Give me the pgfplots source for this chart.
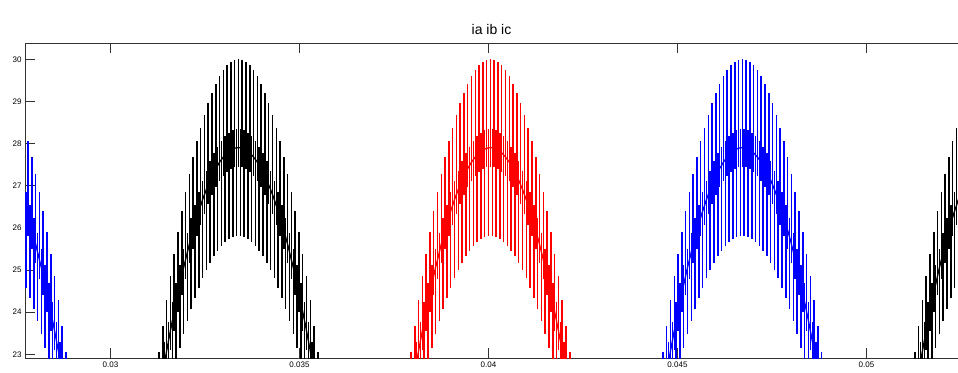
\documentclass[border=0pt]{standalone}
\usepackage{pgfplots}
\usepackage{pgfplotstable}
\pgfplotsset{compat=1.18}
\usepackage{fontspec}
\setmainfont{Liberation Sans}
\pgfplotstableread{
t0 t1 t2 t3 t4 m p n
24.52 31.185 37.85 44.515 51.18 21.50 0.89 0.45
24.57 31.235 37.90 44.565 51.23 21.77 0.45 0.94
24.62 31.285 37.95 44.615 51.28 22.05 1.00 0.45
24.67 31.335 38.00 44.665 51.33 22.31 0.45 1.05
24.72 31.385 38.05 44.715 51.38 22.57 1.10 0.45
24.77 31.435 38.10 44.765 51.43 22.83 0.45 1.15
24.82 31.485 38.15 44.815 51.48 23.08 1.20 0.45
24.87 31.535 38.20 44.865 51.53 23.32 0.45 1.24
24.92 31.585 38.25 44.915 51.58 23.56 1.29 0.45
24.97 31.635 38.30 44.965 51.63 23.79 0.45 1.33
25.02 31.685 38.35 45.015 51.68 24.01 1.38 0.45
25.07 31.735 38.40 45.065 51.73 24.23 0.45 1.42
25.12 31.785 38.45 45.115 51.78 24.45 1.46 0.45
25.17 31.835 38.50 45.165 51.83 24.66 0.45 1.50
25.22 31.885 38.55 45.215 51.88 24.86 1.54 0.45
25.27 31.935 38.60 45.265 51.93 25.06 0.45 1.57
25.32 31.985 38.65 45.315 51.98 25.24 1.61 0.45
25.37 32.035 38.70 45.365 52.03 25.43 0.45 1.64
25.42 32.085 38.75 45.415 52.08 25.61 1.68 0.45
25.47 32.135 38.80 45.465 52.13 25.78 0.45 1.71
25.52 32.185 38.85 45.515 52.18 25.94 1.74 0.45
25.57 32.235 38.90 45.565 52.23 26.10 0.45 1.77
25.62 32.285 38.95 45.615 52.28 26.25 1.80 0.45
25.67 32.335 39.00 45.665 52.33 26.40 0.45 1.82
25.72 32.385 39.05 45.715 52.38 26.53 1.85 0.45
25.77 32.435 39.10 45.765 52.43 26.67 0.45 1.87
25.82 32.485 39.15 45.815 52.48 26.79 1.90 0.45
25.87 32.535 39.20 45.865 52.53 26.91 0.45 1.92
25.92 32.585 39.25 45.915 52.58 27.02 1.94 0.45
25.97 32.635 39.30 45.965 52.63 27.13 0.45 1.96
26.02 32.685 39.35 46.015 52.68 27.23 1.98 0.45
26.07 32.735 39.40 46.065 52.73 27.32 0.45 1.99
26.12 32.785 39.45 46.115 52.78 27.41 2.01 0.45
26.17 32.835 39.50 46.165 52.83 27.48 0.45 2.02
26.22 32.885 39.55 46.215 52.88 27.56 2.04 0.45
26.27 32.935 39.60 46.265 52.93 27.62 0.45 2.05
26.32 32.985 39.65 46.315 52.98 27.68 2.06 0.45
26.37 33.035 39.70 46.365 53.03 27.73 0.45 2.07
26.42 33.085 39.75 46.415 53.08 27.78 2.08 0.45
26.47 33.135 39.80 46.465 53.13 27.81 0.45 2.08
26.52 33.185 39.85 46.515 53.18 27.85 2.09 0.45
26.57 33.235 39.90 46.565 53.23 27.87 0.45 2.09
26.62 33.285 39.95 46.615 53.28 27.89 2.10 0.45
26.67 33.335 40.00 46.665 53.33 27.90 0.45 2.10
26.72 33.385 40.05 46.715 53.38 27.90 2.10 0.45
26.77 33.435 40.10 46.765 53.43 27.90 0.45 2.10
26.82 33.485 40.15 46.815 53.48 27.89 2.10 0.45
26.87 33.535 40.20 46.865 53.53 27.87 0.45 2.09
26.92 33.585 40.25 46.915 53.58 27.85 2.09 0.45
26.97 33.635 40.30 46.965 53.63 27.81 0.45 2.08
27.02 33.685 40.35 47.015 53.68 27.78 2.08 0.45
27.07 33.735 40.40 47.065 53.73 27.73 0.45 2.07
27.12 33.785 40.45 47.115 53.78 27.68 2.06 0.45
27.17 33.835 40.50 47.165 53.83 27.62 0.45 2.05
27.22 33.885 40.55 47.215 53.88 27.56 2.04 0.45
27.27 33.935 40.60 47.265 53.93 27.48 0.45 2.02
27.32 33.985 40.65 47.315 53.98 27.41 2.01 0.45
27.37 34.035 40.70 47.365 54.03 27.32 0.45 1.99
27.42 34.085 40.75 47.415 54.08 27.23 1.98 0.45
27.47 34.135 40.80 47.465 54.13 27.13 0.45 1.96
27.52 34.185 40.85 47.515 54.18 27.02 1.94 0.45
27.57 34.235 40.90 47.565 54.23 26.91 0.45 1.92
27.62 34.285 40.95 47.615 54.28 26.79 1.90 0.45
27.67 34.335 41.00 47.665 54.33 26.67 0.45 1.87
27.72 34.385 41.05 47.715 54.38 26.53 1.85 0.45
27.77 34.435 41.10 47.765 54.43 26.40 0.45 1.82
27.82 34.485 41.15 47.815 54.48 26.25 1.80 0.45
27.87 34.535 41.20 47.865 54.53 26.10 0.45 1.77
27.92 34.585 41.25 47.915 54.58 25.94 1.74 0.45
27.97 34.635 41.30 47.965 54.63 25.78 0.45 1.71
28.02 34.685 41.35 48.015 54.68 25.61 1.68 0.45
28.07 34.735 41.40 48.065 54.73 25.43 0.45 1.64
28.12 34.785 41.45 48.115 54.78 25.24 1.61 0.45
28.17 34.835 41.50 48.165 54.83 25.06 0.45 1.57
28.22 34.885 41.55 48.215 54.88 24.86 1.54 0.45
28.27 34.935 41.60 48.265 54.93 24.66 0.45 1.50
28.32 34.985 41.65 48.315 54.98 24.45 1.46 0.45
28.37 35.035 41.70 48.365 55.03 24.23 0.45 1.42
28.42 35.085 41.75 48.415 55.08 24.01 1.38 0.45
28.47 35.135 41.80 48.465 55.13 23.79 0.45 1.33
28.52 35.185 41.85 48.515 55.18 23.56 1.29 0.45
28.57 35.235 41.90 48.565 55.23 23.32 0.45 1.24
28.62 35.285 41.95 48.615 55.28 23.08 1.20 0.45
28.67 35.335 42.00 48.665 55.33 22.83 0.45 1.15
28.72 35.385 42.05 48.715 55.38 22.57 1.10 0.45
28.77 35.435 42.10 48.765 55.43 22.31 0.45 1.05
28.82 35.485 42.15 48.815 55.48 22.05 1.00 0.45
28.87 35.535 42.20 48.865 55.53 21.77 0.45 0.94
28.92 35.585 42.25 48.915 55.58 21.50 0.89 0.45
}\ripple
\begin{document}
\begin{tikzpicture}
\useasboundingbox (-25pt,-13.7pt) rectangle (933pt,358.3pt);
\begin{axis}[
  at={(0,0)}, anchor=south west,
  width=933pt, height=315pt, scale only axis,
  xmin=27.738, xmax=52.421, ymin=22.905, ymax=30.38,
  xtick={30,35,40,45,50},
  xticklabels={0.03,0.035,0.04,0.045,0.05},
  ytick={23,24,25,26,27,28,29,30},
  /pgf/number format/assume math mode=true,
  tick align=inside,
  major tick length=10pt,
  axis y line*=left, axis x line*=box,
  axis line style={-, draw=black!80, line width=0.8pt},
  tick style={draw=black!80, line width=0.7pt},
  tick label style={font=\fontsize{8}{9}\selectfont},
  title={ia ib ic},
  title style={font=\fontsize{14}{16}\selectfont, yshift=-1pt},
]
\addplot[blue, line width=1.3pt, error bars/.cd, y dir=both, y explicit, error mark=none, error bar style={line width=1.5pt, blue}] table[x=t0, y=m, y error plus=p, y error minus=n] {\ripple};
\addplot[black, line width=1.3pt, error bars/.cd, y dir=both, y explicit, error mark=none, error bar style={line width=1.5pt, black}] table[x=t1, y=m, y error plus=p, y error minus=n] {\ripple};
\addplot[red, line width=1.3pt, error bars/.cd, y dir=both, y explicit, error mark=none, error bar style={line width=1.5pt, red}] table[x=t2, y=m, y error plus=p, y error minus=n] {\ripple};
\addplot[blue, line width=1.3pt, error bars/.cd, y dir=both, y explicit, error mark=none, error bar style={line width=1.5pt, blue}] table[x=t3, y=m, y error plus=p, y error minus=n] {\ripple};
\addplot[black, line width=1.3pt, error bars/.cd, y dir=both, y explicit, error mark=none, error bar style={line width=1.5pt, black}] table[x=t4, y=m, y error plus=p, y error minus=n] {\ripple};
\end{axis}
\end{tikzpicture}
\end{document}
